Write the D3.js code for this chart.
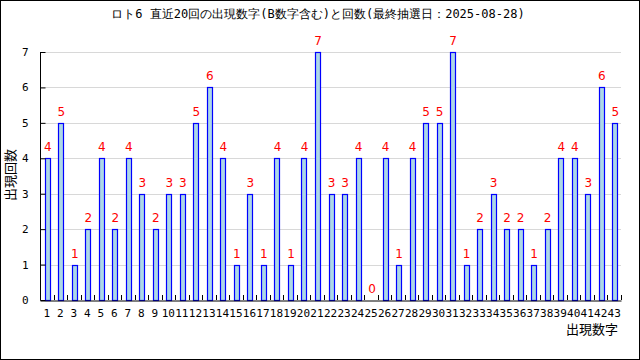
<!DOCTYPE html>
<html><head><meta charset="utf-8">
<script src="https://cdn.jsdelivr.net/npm/d3@7"></script>
<style>body{margin:0;background:#fff}svg{display:block}</style>
</head><body>
<svg id="c" width="640" height="360"></svg>
<script>
const categories = d3.range(1, 44).map(String);
const counts = [4,5,1,2,4,2,4,3,2,3,3,5,6,4,1,3,1,4,1,4,7,3,3,4,0,4,1,4,5,5,7,1,2,3,2,2,1,2,4,4,3,6,5];
const yTicks = [0,1,2,3,4,5,6,7];
const title = "ロト6 直近20回の出現数字(B数字含む)と回数(最終抽選日：2025-08-28)";
const xTitle = "出現数字";
const yTitle = "出現回数";

const svg = d3.select("#c");
const L = 40, R = 621, T = 52, B = 300;
const mono = "'DejaVu Sans Mono', monospace";
const sans = "'DejaVu Sans', sans-serif";
const cjk = "'Noto Sans CJK JP', sans-serif";

svg.append("rect").attr("x",0.5).attr("y",0.5).attr("width",639).attr("height",359)
  .attr("fill","#fff").attr("stroke","#000");

const x = d3.scaleBand().domain(categories).range([L, R]).padding(0);
const y = d3.scaleLinear().domain([0, 7]).range([B, T]);

// gridlines
svg.append("g").selectAll("line").data(yTicks.filter(t=>t>0)).join("line")
  .attr("x1", L).attr("x2", R)
  .attr("y1", d => Math.round(y(d)) + 0.5).attr("y2", d => Math.round(y(d)) + 0.5)
  .attr("stroke", "#d8d8d8");

// bars
const bw = 6;
svg.append("g").selectAll("rect").data(counts).join("rect")
  .attr("x", (d,i) => Math.round(x(categories[i]) + x.bandwidth()/2 - bw/2 + 1) + 0.5)
  .attr("y", d => Math.round(y(d)) + 0.5)
  .attr("width", bw - 1)
  .attr("height", d => Math.max(0, Math.round(B) - Math.round(y(d))))
  .attr("fill", "#add8e6").attr("stroke", "#0000ff").attr("stroke-width", 1.2)
  .attr("display", d => d > 0 ? null : "none");

// value labels
svg.append("g").selectAll("text").data(counts).join("text")
  .attr("x", (d,i) => x(categories[i]) + x.bandwidth()/2 + 1)
  .attr("y", d => y(d) - 7)
  .attr("text-anchor", "middle")
  .attr("font-family", sans).attr("font-size", 12)
  .attr("fill", "#ff0000")
  .text(d => d);

// x axis
const xAxis = d3.axisBottom(x).tickSize(0).tickPadding(9);
const gx = svg.append("g").attr("transform", `translate(0,${B + 0.5})`).call(xAxis);
gx.select(".domain").attr("stroke", "#000");
gx.selectAll("text").attr("font-family", mono).attr("font-size", 11).attr("fill", "#000");
// x tick marks at band boundaries (inside)
svg.append("g").selectAll("line").data(categories.slice(1).concat(["end"])).join("line")
  .attr("x1", (d,i) => Math.round(L + (i+1)*x.step()) + 0.5)
  .attr("x2", (d,i) => Math.round(L + (i+1)*x.step()) + 0.5)
  .attr("y1", B).attr("y2", B - 5).attr("stroke", "#000");

// y axis
const yAxis = d3.axisLeft(y).tickValues(yTicks).tickSize(-5).tickPadding(12).tickFormat(d3.format("d"));
const gy = svg.append("g").attr("transform", `translate(${L + 0.5},0)`).call(yAxis);
gy.select(".domain").attr("stroke", "#000").attr("d", `M0,${T}V${B + 0.5}`);
gy.selectAll("text").attr("font-family", mono).attr("font-size", 11).attr("fill", "#000");

// titles
svg.append("text").attr("x", 318).attr("y", 18).attr("text-anchor", "middle")
  .attr("font-family", mono).attr("font-size", 12).attr("fill", "#000").text(title);
svg.append("text").attr("transform", "translate(15,175) rotate(-90)")
  .attr("text-anchor", "middle").attr("font-family", cjk).attr("font-size", 13)
  .attr("fill", "#000").text(yTitle);
svg.append("text").attr("x", 618).attr("y", 334).attr("text-anchor", "end")
  .attr("font-family", cjk).attr("font-size", 13).attr("fill", "#000").text(xTitle);
</script>
</body></html>
